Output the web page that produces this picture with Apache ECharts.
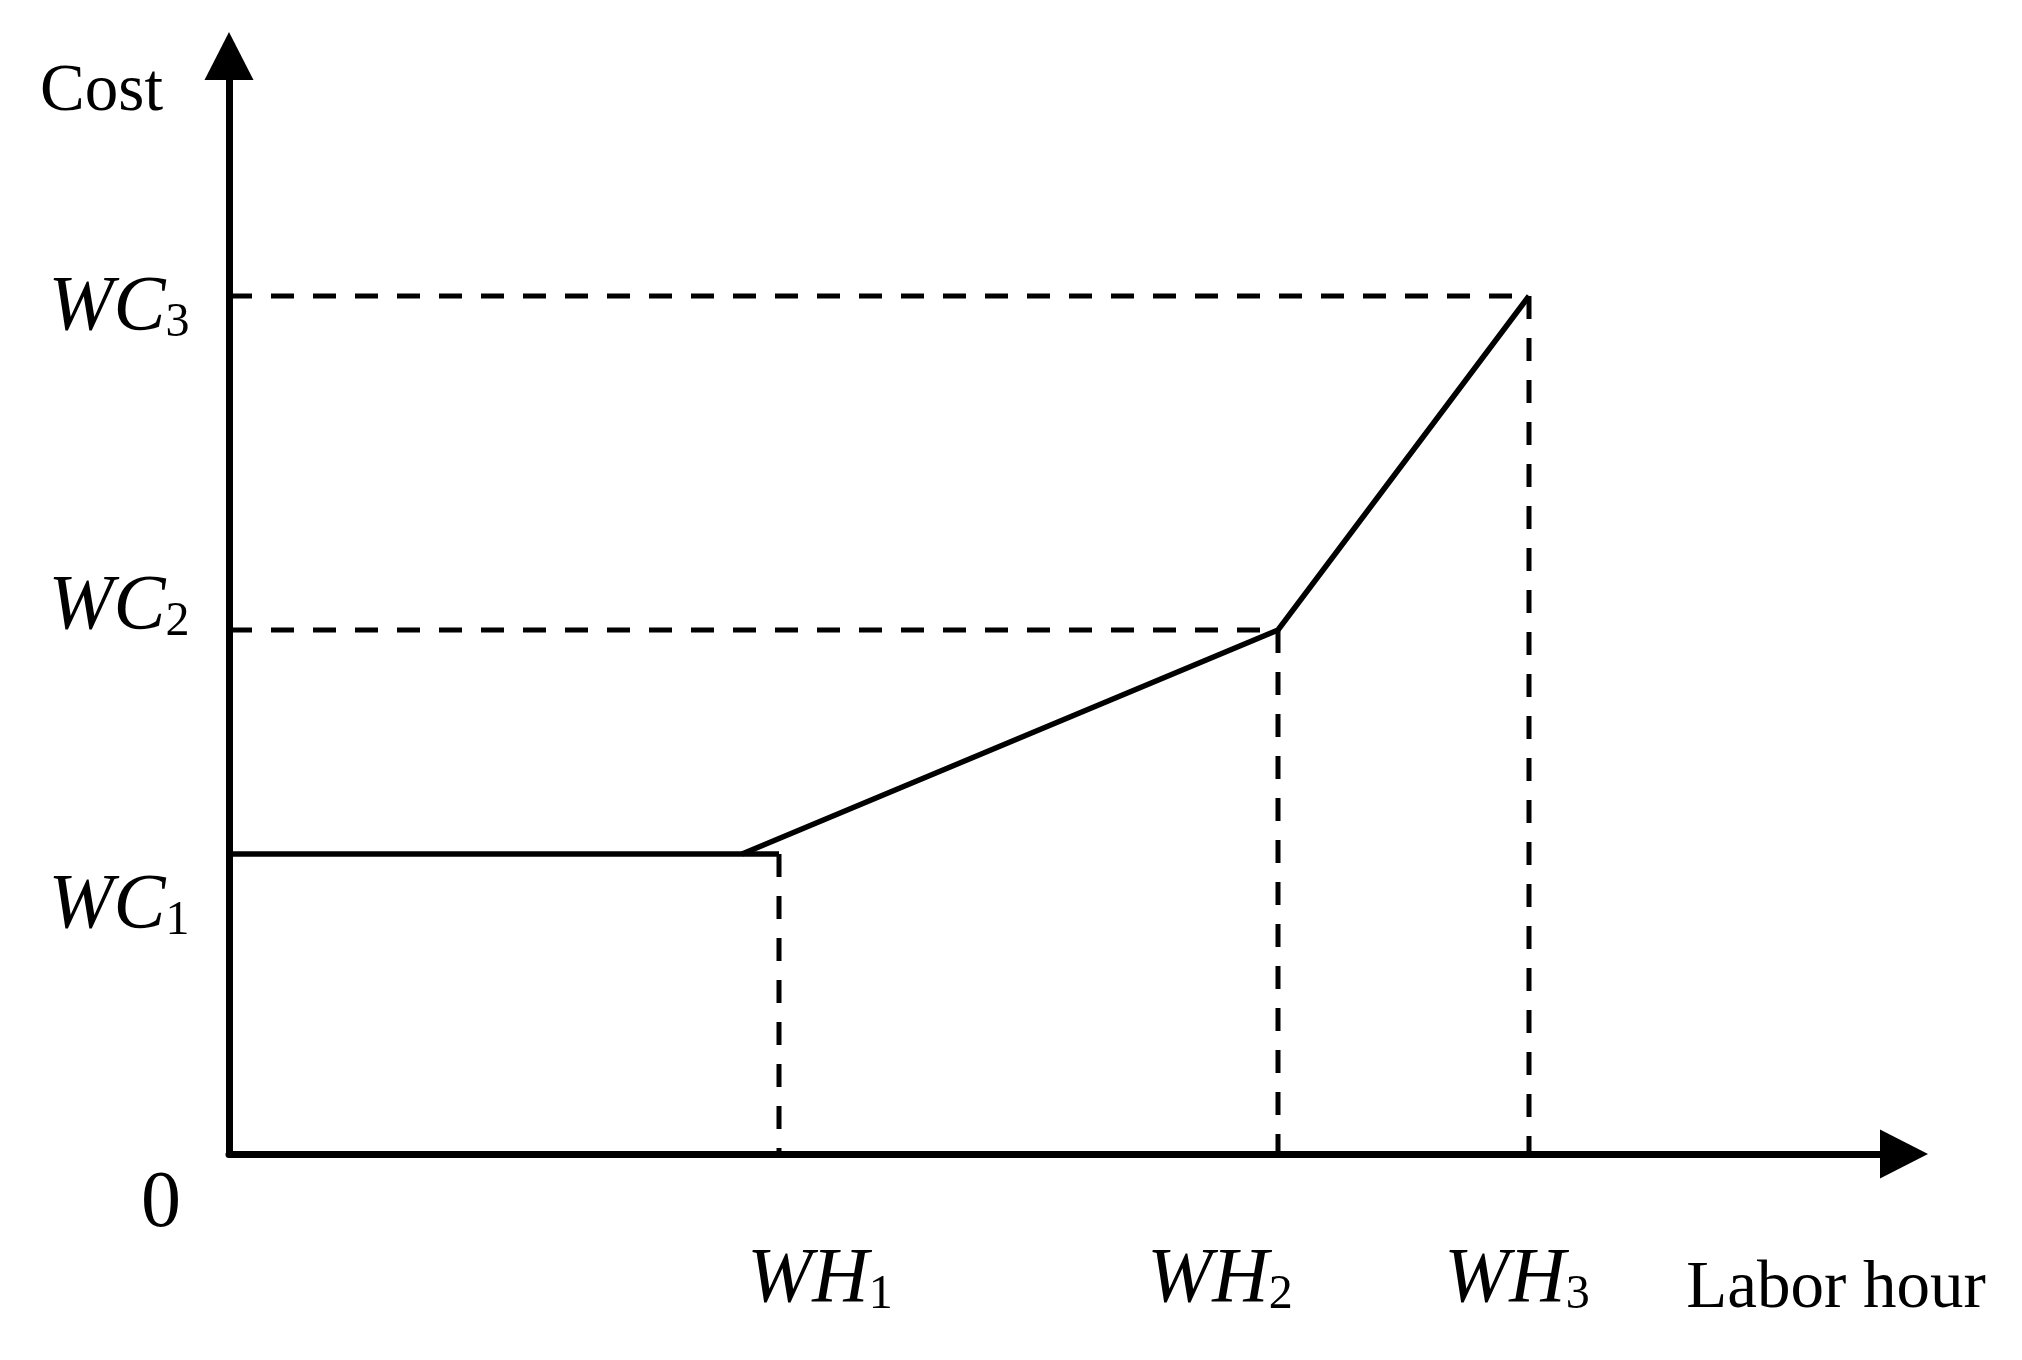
<!DOCTYPE html>
<html>
<head>
<meta charset="utf-8">
<title>Cost vs labor hour</title>
<script src="https://cdn.jsdelivr.net/npm/echarts@6.0.0/dist/echarts.min.js"></script>
<style>
  html, body { margin: 0; padding: 0; background: #fff; }
  #chart { width: 2022px; height: 1360px; }
</style>
</head>
<body>
<div id="chart"></div>
<script>
// breakpoints of the piecewise cost curve, schematic units
const hourTicks = ['WH1', 'WH2', 'WH3'];
const hourValues = [550, 1049, 1300];
const costTicks = ['WC1', 'WC2', 'WC3'];
const costValues = [300, 524, 858];
const riseStartHour = 513;
const hourMax = 1675;
const costMax = 1098;

// hand nudges for the tick labels, [dx, dy] in px
const hourLabelNudge = [[41, 126], [-58, 126], [-12, 126]];
const costLabelNudge = [[-110, 52], [-110, -23], [-110, 12]];
const originLabelNudge = [-68, 51];

const FONT = "'Liberation Serif', 'Times New Roman', serif";
const INK = '#000';
const richStyles = {
  m: { fontFamily: FONT, fontStyle: 'italic', fontSize: 78, lineHeight: 78, color: INK },
  s: { fontFamily: FONT, fontSize: 48, lineHeight: 42, verticalAlign: 'bottom', color: INK },
  z: { fontFamily: FONT, fontSize: 80, lineHeight: 80, color: INK },
};

// 'WH1' -> main letters + subscript
const subLabel = (name) => `{m|${name.slice(0, -1)}}{s|${name.slice(-1)}}`;

const dashed = { color: INK, width: 5, type: [23, 19] };
const solid = { color: INK, width: 5.5, join: 'miter', cap: 'butt' };

const guide = (points) => ({
  type: 'line',
  data: points,
  symbol: 'none',
  clip: false,
  silent: true,
  lineStyle: dashed,
});

const chart = echarts.init(document.getElementById('chart'));

const option = {
  animation: false,
  backgroundColor: '#fff',
  textStyle: { color: INK },
  grid: { left: 229, right: 118, top: 56, bottom: 206, outerBoundsMode: 'none' },
  xAxis: {
    type: 'value',
    min: 0,
    max: hourMax,
    name: 'Labor hour',
    nameLocation: 'end',
    nameGap: -68,
    nameMoveOverlap: false,
    nameTextStyle: {
      fontFamily: FONT, fontSize: 67, color: INK,
      align: 'center', verticalAlign: 'top', lineHeight: 270,
    },
    axisLine: {
      lineStyle: { color: INK, width: 7 },
      symbol: ['none', 'triangle'],
      symbolSize: [49, 48],
    },
    axisTick: { show: false },
    axisLabel: { show: false },
    splitLine: { show: false },
  },
  yAxis: {
    type: 'value',
    min: 0,
    max: costMax,
    name: 'Cost',
    nameLocation: 'end',
    nameGap: -36,
    nameMoveOverlap: false,
    nameTextStyle: {
      fontFamily: FONT, fontSize: 67, color: INK,
      align: 'right', verticalAlign: 'middle', padding: [0, 66, 0, 0],
    },
    axisLine: {
      lineStyle: { color: INK, width: 7 },
      symbol: ['none', 'triangle'],
      symbolSize: [49, 48],
    },
    axisTick: { show: false },
    axisLabel: { show: false },
    splitLine: { show: false },
  },
  series: [
    // flat part up to WH1
    {
      type: 'line',
      data: [[0, costValues[0]], [hourValues[0], costValues[0]]],
      symbol: 'none', clip: false, silent: true, lineStyle: solid,
    },
    // rising part
    {
      type: 'line',
      data: [
        [riseStartHour, costValues[0]],
        [hourValues[1], costValues[1]],
        [hourValues[2], costValues[2]],
      ],
      symbol: 'none', clip: false, silent: true, lineStyle: solid,
    },
    // dashed drop lines
    guide([[hourValues[0], costValues[0]], [hourValues[0], 0]]),
    guide([[hourValues[1], costValues[1]], [hourValues[1], 0]]),
    guide([[hourValues[2], costValues[2]], [hourValues[2], 0]]),
    guide([[0, costValues[1]], [hourValues[1], costValues[1]]]),
    guide([[0, costValues[2]], [hourValues[2], costValues[2]]]),
    // tick labels
    {
      type: 'scatter',
      symbol: 'circle',
      symbolSize: 0,
      silent: true,
      itemStyle: { color: INK, opacity: 1 },
      label: {
        show: true, position: 'inside', color: INK, opacity: 1,
        textBorderWidth: 0, rich: richStyles,
      },
      data: [
        ...hourTicks.map((name, i) => ({
          value: [hourValues[i], 0],
          label: { offset: hourLabelNudge[i], formatter: subLabel(name) },
        })),
        ...costTicks.map((name, i) => ({
          value: [0, costValues[i]],
          label: { offset: costLabelNudge[i], formatter: subLabel(name) },
        })),
        {
          value: [0, 0],
          label: { offset: originLabelNudge, formatter: '{z|0}' },
        },
      ],
    },
  ],
};

chart.setOption(option);
window.addEventListener('resize', () => chart.resize());
</script>
</body>
</html>
